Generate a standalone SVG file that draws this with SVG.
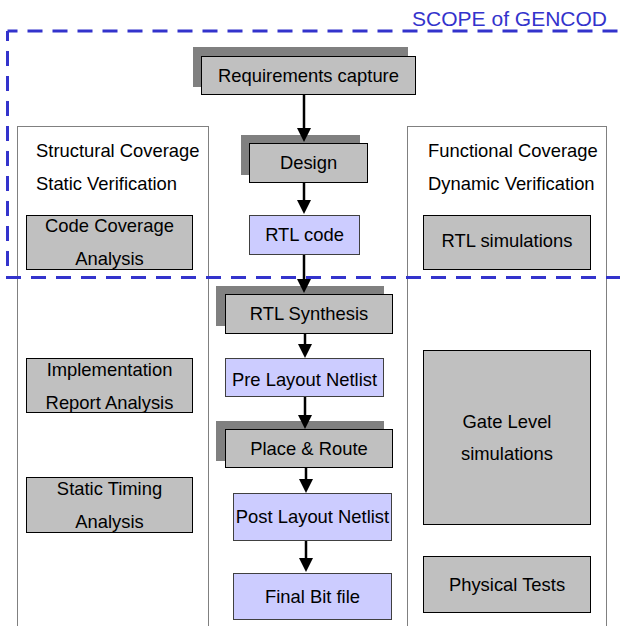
<svg xmlns="http://www.w3.org/2000/svg" width="620" height="626" viewBox="0 0 620 626">
<style>
text{font-family:"Liberation Sans",Arial,sans-serif;font-size:18.4px;fill:#000}
.c{text-anchor:middle}
.panel{fill:#fff;stroke:#808080;stroke-width:1}
.g{fill:#c0c0c0;stroke:#000;stroke-width:1}
.b{fill:#ccccff;stroke:#404040;stroke-width:1}
.sh{fill:#808080}
.scope{fill:none;stroke:#3333cc;stroke-width:3;stroke-dasharray:15 10;stroke-dashoffset:5}
.arr{stroke:#000;stroke-width:2.5;fill:none;marker-end:url(#ah)}
</style>
<defs>
<marker id="ah" markerUnits="userSpaceOnUse" markerWidth="14" markerHeight="14" refX="8" refY="7" orient="auto">
<path d="M0,0 L14,7 L0,14 z" fill="#000"/>
</marker>
</defs>
<rect width="620" height="626" fill="#fff"/>
<g id="panel-structural">
<rect class="panel" x="17.5" y="126.5" width="191" height="520"/>
<text x="36" y="157">Structural Coverage</text>
<text x="36" y="190">Static Verification</text>
</g>
<g id="panel-functional">
<rect class="panel" x="407.5" y="126.5" width="199" height="520"/>
<text x="428" y="157">Functional Coverage</text>
<text x="428" y="190">Dynamic Verification</text>
</g>
<g id="scope">
<path class="scope" d="M7.5,31 H625"/>
<path class="scope" d="M7.5,31 V277.5 H625"/>
<text x="607" y="26" text-anchor="end" style="fill:#3333cc;font-size:21px">SCOPE of GENCOD</text>
</g>
<g id="code-coverage">
<rect class="g" x="26.5" y="215.5" width="166" height="54"/>
<text class="c" x="109.5" y="232">Code Coverage</text>
<text class="c" x="109.5" y="265">Analysis</text>
</g>
<g id="implementation-report">
<rect class="g" x="26.5" y="358.5" width="166" height="54"/>
<text class="c" x="109.5" y="376">Implementation</text>
<text class="c" x="109.5" y="409">Report Analysis</text>
</g>
<g id="static-timing">
<rect class="g" x="26.5" y="477.5" width="166" height="55"/>
<text class="c" x="109.5" y="495">Static Timing</text>
<text class="c" x="109.5" y="528">Analysis</text>
</g>
<g id="rtl-simulations">
<rect class="g" x="423.5" y="215.5" width="167" height="54"/>
<text class="c" x="507" y="247">RTL simulations</text>
</g>
<g id="gate-level">
<rect class="g" x="423.5" y="350.5" width="167" height="174"/>
<text class="c" x="507" y="428">Gate Level</text>
<text class="c" x="507" y="460">simulations</text>
</g>
<g id="physical-tests">
<rect class="g" x="423.5" y="556.5" width="167" height="56"/>
<text class="c" x="507" y="591">Physical Tests</text>
</g>
<g id="requirements">
<rect class="sh" x="193" y="47" width="215" height="40"/>
<rect class="g" x="201.5" y="56.5" width="214" height="38"/>
<text class="c" x="308.5" y="82">Requirements capture</text>
</g>
<g id="design">
<rect class="sh" x="241" y="135" width="119" height="40"/>
<rect class="g" x="249.5" y="143.5" width="118" height="39"/>
<text class="c" x="308.5" y="168.5">Design</text>
</g>
<g id="rtl-code">
<rect class="b" x="249.5" y="215.5" width="110" height="39"/>
<text class="c" x="304.5" y="241">RTL code</text>
</g>
<g id="rtl-synthesis">
<rect class="sh" x="216" y="286" width="168" height="40"/>
<rect class="g" x="225.5" y="294.5" width="167" height="39"/>
<text class="c" x="309" y="320">RTL Synthesis</text>
</g>
<g id="pre-layout">
<rect class="b" x="225.5" y="358.5" width="158" height="38"/>
<text class="c" x="304.5" y="386">Pre Layout Netlist</text>
</g>
<g id="place-route">
<rect class="sh" x="216" y="421" width="168" height="40"/>
<rect class="g" x="225.5" y="429.5" width="167" height="38"/>
<text class="c" x="309" y="455">Place &amp; Route</text>
</g>
<g id="post-layout">
<rect class="b" x="233.5" y="493.5" width="158" height="47"/>
<text class="c" x="312.5" y="523">Post Layout Netlist</text>
</g>
<g id="final-bit">
<rect class="b" x="233.5" y="573.5" width="158" height="46"/>
<text class="c" x="312.5" y="603">Final Bit file</text>
</g>
<g id="connectors">
<line class="arr" x1="304" y1="95" x2="304" y2="136"/>
<line class="arr" x1="304" y1="183" x2="304" y2="208"/>
<line class="arr" x1="304" y1="255" x2="304" y2="287"/>
<line class="arr" x1="305" y1="334" x2="305" y2="352"/>
<line class="arr" x1="305" y1="397" x2="305" y2="423"/>
<line class="arr" x1="306" y1="468" x2="306" y2="487"/>
<line class="arr" x1="306" y1="541" x2="306" y2="566"/>
</g>
</svg>
